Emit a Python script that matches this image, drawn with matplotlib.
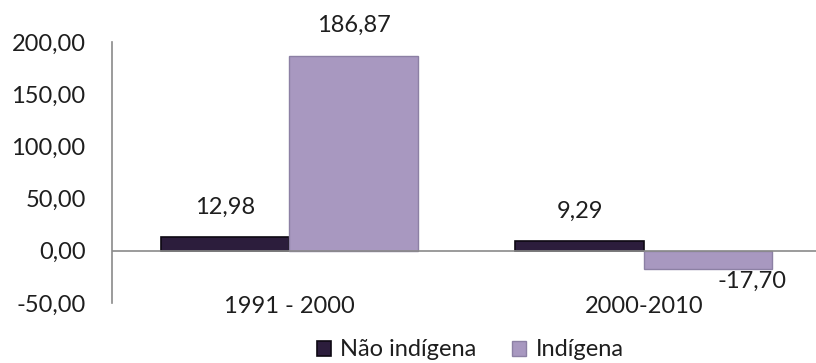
import numpy as np
import matplotlib.pyplot as plt

plt.rcParams['font.family'] = ['Lato', 'DejaVu Sans']

periodos = ["1991 - 2000", "2000-2010"]
nao_indigena = [12.98, 9.29]
indigena = [186.87, -17.70]
series = ["Não indígena", "Indígena"]
yticks = [-50, 0, 50, 100, 150, 200]


def fmt(v):
    return f"{v:.2f}".replace(".", ",")


fig = plt.figure(figsize=(8.16, 3.63), dpi=100)
ax = fig.add_axes([112 / 816, 1 - 303 / 363, 704 / 816, 261 / 363])

x = np.arange(len(periodos))
w = 0.362
b1 = ax.bar(x - w / 2, nao_indigena, w, color="#2c1d3c", edgecolor="#0d0812",
            linewidth=1.2, label=series[0], zorder=3)
b2 = ax.bar(x + w / 2, indigena, w, color="#a898c0", edgecolor="#8c80a4",
            linewidth=1.0, label=series[1], zorder=3)

ax.set_xlim(-0.5, 1.486)
ax.set_ylim(-50, 200)
ax.set_yticks(yticks)
ax.set_yticklabels([fmt(v) for v in yticks])
ax.tick_params(axis="y", length=0, pad=19, labelsize=17, labelcolor="#1e1e1e")

ax.set_xticks(x)
ax.set_xticklabels(periodos)
ax.tick_params(axis="x", length=0, pad=-5, labelsize=17, labelcolor="#1e1e1e")

for s in ["top", "right", "bottom"]:
    ax.spines[s].set_visible(False)
ax.spines["left"].set_color("#8a8a8a")
ax.spines["left"].set_linewidth(1.2)
ax.axhline(0, color="#8a8a8a", linewidth=1.2, zorder=4)

# data labels above positive bars, below-right for the negative one
for bars in (b1, b2):
    for r in bars:
        v = r.get_height()
        cx = r.get_x() + r.get_width() / 2
        if v >= 0:
            ax.annotate(fmt(v), (cx, v), xytext=(0, 14), textcoords="offset points",
                        ha="center", va="bottom", fontsize=17, color="#1e1e1e")
        else:
            ax.annotate(fmt(v), (cx, v), xytext=(32, -9), textcoords="offset points",
                        ha="center", va="center", fontsize=17, color="#1e1e1e")

fig.legend(loc="center", bbox_to_anchor=(470 / 816, 0.036), ncol=2, frameon=False,
           fontsize=17, handlelength=0.6, handleheight=0.6, handletextpad=0.4,
           columnspacing=1.5, labelcolor="#1e1e1e")

fig.savefig("out.png", dpi=100)
